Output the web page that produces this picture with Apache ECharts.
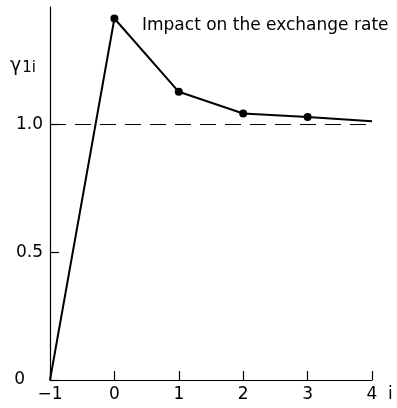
<!DOCTYPE html>
<html><head><meta charset="utf-8">
<script src="https://cdn.jsdelivr.net/npm/echarts@6/dist/echarts.min.js"></script>
<style>html,body{margin:0;padding:0;background:#fff}#c{width:397px;height:408px}</style>
</head><body><div id="c"></div>
<script>
const lags = [-1, 0, 1, 2, 3, 4];
const impact = [0, 1.415, 1.128, 1.043, 1.029, 1.013];
const markedLags = [0, 1, 2, 3];
const referenceLevel = 1.0;
const xTicks = [-1, 0, 1, 2, 3, 4];
const yTicks = [0, 0.5, 1.0];
const yLabels = ['0', '0.5', '1.0'];

const font = 'DejaVu Sans, sans-serif';
const chart = echarts.init(document.getElementById('c'));
chart.setOption({
  animation: false,
  backgroundColor: '#fff',
  grid: {left: 50, right: 25, top: 7, bottom: 28, containLabel: false},
  xAxis: {
    type: 'value', min: -1, max: 4, interval: 1,
    axisLine: {show: true, onZero: false, lineStyle: {color: '#000', width: 1.2}},
    axisTick: {show: true, inside: true, length: 9, lineStyle: {color: '#000', width: 1.2}},
    axisLabel: {color: '#000', fontSize: 17, fontFamily: font, margin: 6,
      formatter: v => xTicks.includes(v) ? String(v).replace('-', '\u2212') : ''},
    splitLine: {show: false}
  },
  yAxis: {
    type: 'value', min: 0, max: 1.46, interval: 0.5,
    axisLine: {show: true, onZero: false, lineStyle: {color: '#000', width: 1.2}},
    axisTick: {show: true, inside: true, length: 9, lineStyle: {color: '#000', width: 1.2}},
    axisLabel: {color: '#000', fontSize: 17, fontFamily: font, margin: 7, showMaxLabel: false,
      formatter: v => {
        const i = yTicks.findIndex(t => Math.abs(t - v) < 1e-6);
        if (i < 0) return '';
        return i === 0 ? '{z|' + yLabels[i] + '}' : yLabels[i];
      },
      rich: {z: {fontSize: 17, fontFamily: font, color: '#000', padding: [0, 18, 0, 0]}}},
    splitLine: {show: false}
  },
  series: [
    {
      type: 'line', data: [[lags[0], referenceLevel], [lags[lags.length - 1], referenceLevel]],
      symbol: 'none', silent: true,
      lineStyle: {color: '#000', width: 1, type: [16, 9]}
    },
    {
      type: 'line',
      data: lags.map((x, i) => ({value: [x, impact[i]],
        symbol: markedLags.includes(x) ? 'circle' : 'none'})),
      symbolSize: 8,
      itemStyle: {color: '#000'},
      lineStyle: {color: '#000', width: 2}
    }
  ],
  graphic: [
    {type: 'text', left: 142, top: 17, style: {text: 'Impact on the exchange rate', fill: '#000', font: '17px ' + font}},
    {type: 'text', left: 10, top: 57, style: {
      text: '{g|\u03b3}{s|1i}', fill: '#000',
      rich: {g: {fontSize: 19, fontFamily: font, fill: '#000'},
             s: {fontSize: 15, fontFamily: font, fill: '#000', padding: [4, 0, 0, 1]}}}},
    {type: 'text', left: 388, top: 386, style: {text: 'i', fill: '#000', font: '17px ' + font}}
  ]
});
</script></body></html>
